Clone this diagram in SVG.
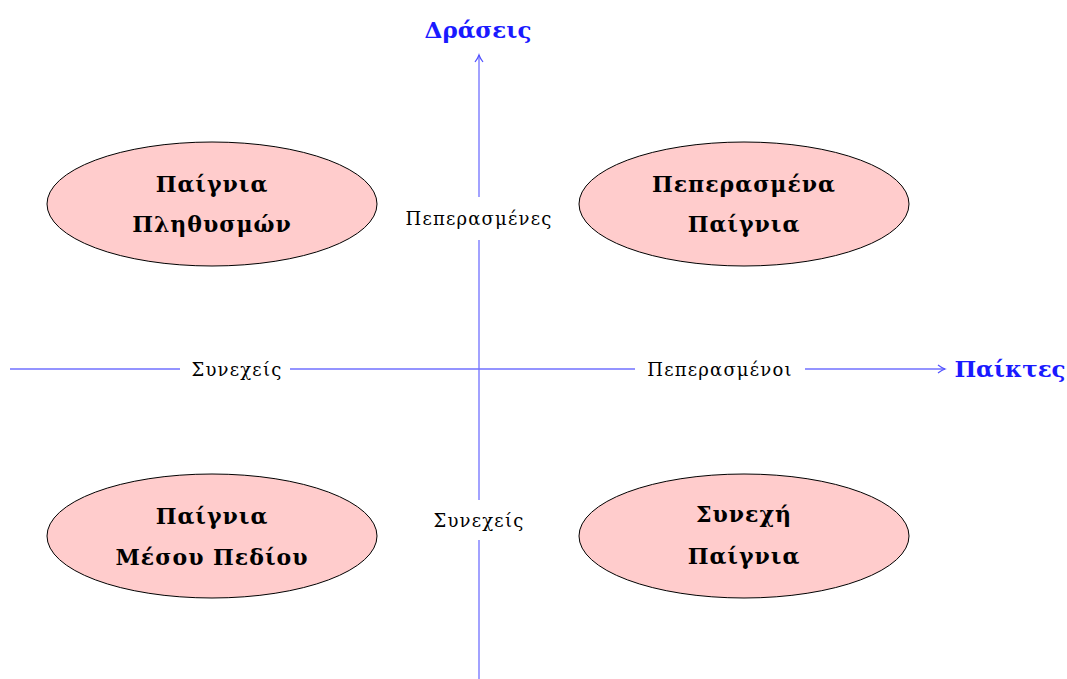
<svg xmlns="http://www.w3.org/2000/svg" width="1067" height="679" viewBox="0 0 1067 679">
<style>
.ax{stroke:#7070ff;stroke-width:1.3;fill:none}
.lbl{font-family:"DejaVu Serif","Liberation Serif",serif;font-size:18px;letter-spacing:1.2px;fill:#000;text-anchor:middle;dominant-baseline:central}
.ttl{font-family:"DejaVu Serif","Liberation Serif",serif;font-size:22px;letter-spacing:1px;font-weight:bold;fill:#000;text-anchor:middle;dominant-baseline:central}
.axt{font-family:"DejaVu Serif","Liberation Serif",serif;font-size:23px;font-weight:bold;fill:#1a1aff;text-anchor:middle;dominant-baseline:central}
.el{fill:#ffcccc;stroke:#000;stroke-width:1}
</style>
<defs>
<marker id="ah" markerWidth="10" markerHeight="10" refX="8" refY="5" orient="auto" markerUnits="userSpaceOnUse">
<path d="M1,1 Q5,4 8,5 Q5,6 1,9" fill="none" stroke="#5050ff" stroke-width="1.2"/>
</marker>
</defs>
<g id="connectors">
<line class="ax" x1="479" y1="679" x2="479" y2="55" marker-end="url(#ah)"/>
<line class="ax" x1="10" y1="369" x2="945" y2="369" marker-end="url(#ah)"/>
<rect x="180" y="356" width="110" height="26" fill="#fff"/>
<rect x="635" y="356" width="170" height="26" fill="#fff"/>
<rect x="395" y="197" width="168" height="43" fill="#fff"/>
<rect x="420" y="500" width="118" height="40" fill="#fff"/>
<text class="lbl" x="237" y="369">Συνεχείς</text>
<text class="lbl" x="720" y="369">Πεπερασμένοι</text>
<text class="lbl" x="479" y="218">Πεπερασμένες</text>
<text class="lbl" x="479" y="520">Συνεχείς</text>
</g>
<g id="axis-y-label"><text class="axt" x="478" y="29">Δράσεις</text></g>
<g id="axis-x-label"><text class="axt" x="1010" y="368">Παίκτες</text></g>
<g id="n1">
<ellipse class="el" cx="212" cy="204" rx="165" ry="62"/>
<text class="ttl" x="212" y="184">Παίγνια</text>
<text class="ttl" x="212" y="224">Πληθυσμών</text>
</g>
<g id="n2">
<ellipse class="el" cx="744" cy="204" rx="165" ry="62"/>
<text class="ttl" x="744" y="184">Πεπερασμένα</text>
<text class="ttl" x="744" y="224">Παίγνια</text>
</g>
<g id="n3">
<ellipse class="el" cx="212" cy="536" rx="165" ry="62"/>
<text class="ttl" x="212" y="516">Παίγνια</text>
<text class="ttl" x="212" y="557">Μέσου Πεδίου</text>
</g>
<g id="n4">
<ellipse class="el" cx="744" cy="536" rx="165" ry="62"/>
<text class="ttl" x="744" y="514">Συνεχή</text>
<text class="ttl" x="744" y="556">Παίγνια</text>
</g>
</svg>
